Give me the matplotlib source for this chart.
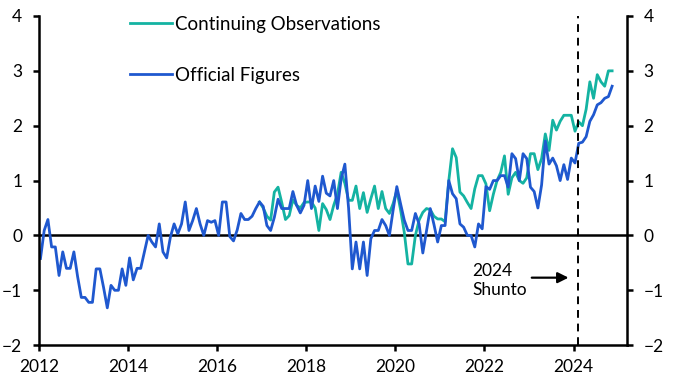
import numpy as np
import matplotlib
matplotlib.use("Agg")
import matplotlib.pyplot as plt

plt.rcParams['font.family'] = ['Lato', 'DejaVu Sans']

# monthly values, official series from Jan 2012
official = [-0.42, 0.09, 0.29, -0.21, -0.21, -0.73, -0.30, -0.6, -0.6, -0.3,
            -0.75, -1.13, -1.13, -1.22, -1.22, -0.61, -0.61, -0.95, -1.32, -0.91,
            -1.0, -1.0, -0.61, -0.91, -0.41, -0.81, -0.6, -0.6, -0.3, 0.0,
            -0.12, -0.21, 0.21, -0.3, -0.41, -0.03, 0.21, 0.03, 0.21, 0.61,
            0.09, 0.27, 0.49, 0.21, 0.0, 0.27, 0.24, 0.27, 0.0, 0.61,
            0.61, -0.02, -0.1, 0.1, 0.40, 0.29, 0.29, 0.35, 0.49, 0.61,
            0.53, 0.18, 0.09, 0.33, 0.66, 0.49, 0.49, 0.49, 0.80, 0.55,
            0.41, 0.55, 1.0, 0.49, 0.9, 0.62, 1.08, 0.77, 0.72, 1.0,
            0.49, 1.03, 1.30, 0.5, -0.61, -0.12, -0.61, -0.12, -0.73, -0.06,
            0.09, 0.09, 0.29, 0.18, 0.0, 0.46, 0.89, 0.58, 0.28, 0.09,
            0.09, 0.40, 0.21, -0.32, 0.09, 0.49, 0.2, -0.12, 0.18, 0.18,
            1.0, 0.76, 0.67, 0.21, 0.15, 0.0, 0.0, -0.21, 0.21, 0.12,
            0.89, 0.84, 1.0, 1.0, 1.09, 1.09, 0.88, 1.49, 1.40, 1.0,
            1.49, 1.40, 0.88, 0.80, 0.5, 0.92, 1.72, 1.30, 1.41, 1.27,
            1.0, 1.29, 1.02, 1.41, 1.32, 1.68, 1.70, 1.80, 2.08, 2.2,
            2.38, 2.42, 2.5, 2.53, 2.72]

# continuing observations, from Dec 2016
continuing_start = 59
continuing = [0.61,
              0.5, 0.35, 0.28, 0.79, 0.88, 0.6, 0.29, 0.36, 0.65, 0.55,
              0.5, 0.6, 0.61, 0.61, 0.5, 0.09, 0.58, 0.47, 0.29, 0.55,
              0.75, 1.15, 0.95, 0.64, 0.64, 0.9, 0.49, 0.78, 0.42, 0.67,
              0.9, 0.49, 0.8, 0.49, 0.40, 0.58, 0.82, 0.47, 0.06, -0.52,
              -0.52, 0.0, 0.28, 0.42, 0.49, 0.47, 0.35, 0.3, 0.3, 0.25,
              1.0, 1.58, 1.42, 0.79, 0.72, 0.6, 0.49, 0.85, 1.09, 1.09,
              0.94, 0.45, 0.75, 1.0, 1.15, 1.45, 0.75, 1.05, 1.15, 1.0,
              0.95, 1.05, 1.49, 1.49, 1.2, 1.4, 1.85, 1.55, 2.1, 1.92,
              2.08, 2.19, 2.19, 2.19, 1.9, 2.07, 2.0, 2.3, 2.8, 2.5,
              2.93, 2.8, 2.72, 3.0, 3.0]

shunto_date = 2024.1
year_ticks = [2012, 2014, 2016, 2018, 2020, 2022, 2024]

teal = '#14b3a2'
blue = '#1f58cf'

t_off = 2012 + (np.arange(len(official)) + 0.4) / 12
t_con = 2012 + (np.arange(len(continuing)) + continuing_start + 0.4) / 12

fig = plt.figure(figsize=(6.77, 3.9), dpi=100)
ax = fig.add_axes([0.0576, 0.115, 0.8685, 0.844])

ax.plot(t_con, continuing, color=teal, lw=2.0, label='Continuing Observations')
ax.plot(t_off, official, color=blue, lw=2.0, label='Official Figures')

ax.axhline(0, color='black', lw=1.8, zorder=1)
ax.axvline(shunto_date, color='black', lw=1.4, ls=(0, (4, 3)))

ax.set_xlim(2012, 2025.2)
ax.set_ylim(-2, 4)
ax.set_xticks(year_ticks)
ax.set_yticks(range(-2, 5))

for s in ['left', 'right', 'bottom']:
    ax.spines[s].set_linewidth(1.8)
ax.spines['top'].set_visible(False)
ax.tick_params(axis='both', labelsize=12.5, width=1.8, length=4, direction='out')
ax.tick_params(axis='y', right=True, labelright=True, pad=8)
ax.tick_params(axis='x', pad=6)

ax.annotate('', xy=(2023.95, -0.77), xytext=(2023.0, -0.77),
            arrowprops=dict(arrowstyle='-|>', color='black', lw=1.6,
                            mutation_scale=16))
ax.text(2021.72, -0.5, '2024\nShunto', fontsize=12.5, va='top', ha='left',
        linespacing=1.25)

leg = ax.legend(loc='upper left', bbox_to_anchor=(0.155, 1.0), frameon=False,
                fontsize=13.5, handlelength=2.25, handletextpad=0.15,
                labelspacing=1.8, borderpad=0, borderaxespad=0)

fig.savefig('out.png', dpi=100)
